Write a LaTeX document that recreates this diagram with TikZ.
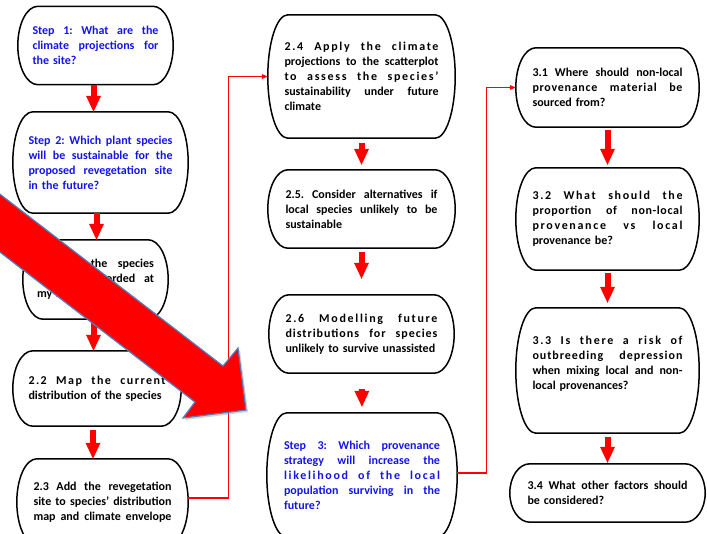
\documentclass[tikz,border=0pt]{standalone}
\usepackage{fontspec}
\setmainfont{Carlito}
\usetikzlibrary{arrows.meta,shadows,calc}
\definecolor{stepblue}{RGB}{20,20,235}
\definecolor{arrowedge}{RGB}{79,129,189}
\newcommand\spaced[2][14]{{\addfontfeature{LetterSpace=#1}#2}}
\tikzset{
  stepbox/.style={inner sep=0pt, align=left, font=\bfseries\fontsize{12}{15}\selectfont},
  boxline/.style={draw=black, line width=1.5pt},
  blockarrow/.style={draw=red, line width=6pt, -{Triangle[width=15pt,length=16pt,line width=0pt]}},
  connector/.style={draw=red, line width=1.2pt, -{Triangle[width=5pt,length=6pt,line width=0pt]}}
}
\begin{document}
\begin{tikzpicture}[x=1pt,y=-1pt]
    \useasboundingbox (0,0) rectangle (707,533);
    \clip (0,0) rectangle (707,533);
    \fill[white] (0,0) rectangle (707,533);
    % first column
    \node[stepbox, stepblue, minimum width=155, minimum height=78, text width=126pt] (s1) at (95.5,45.5)
        {Step\hfill 1:\hfill What\hfill are\hfill the\\ climate\hfill projections\hfill for\\ the site?};
    \node[stepbox, stepblue, minimum width=175, minimum height=101, text width=144pt] (s2) at (100.5,162.5)
        {Step\hfill 2:\hfill Which\hfill plant\hfill species\\ will\hfill be\hfill sustainable\hfill for\hfill the\\ proposed\hfill revegetation\hfill site\\ in the future?};
    \node[stepbox, minimum width=145, minimum height=79, text width=117pt] (s21) at (95.5,279.5)
        {2.1\hfill Are\hfill the\hfill species\\ currently\hfill recorded\hfill at\\ my site?};
    \node[stepbox, minimum width=168, minimum height=75, text width=137pt] (s22) at (97,388.5)
        {\spaced[12]{2.2\hfill Map\hfill the\hfill current}\\ distribution of the species};
    \node[stepbox, minimum width=171, minimum height=86, text width=138pt] (s23) at (102.5,502)
        {2.3\hfill Add\hfill the\hfill revegetation\\ site\hfill to\hfill species’\hfill distribution\\ map\hfill and\hfill climate\hfill envelope};
    % second column
    \node[stepbox, minimum width=187, minimum height=123, text width=154pt] (s24) at (361.5,76.5)
        {\spaced{2.4\hfill Apply\hfill the\hfill climate}\\ projections\hfill to\hfill the\hfill scatterplot\\ \spaced{to\hfill assess\hfill the\hfill species’}\\ sustainability\hfill under\hfill future\\ climate};
    \node[stepbox, minimum width=187, minimum height=78, text width=152pt] (s25) at (361.5,209)
        {2.5.\hfill Consider\hfill alternatives\hfill if\\ local\hfill species\hfill unlikely\hfill to\hfill be\\ sustainable};
    \node[stepbox, minimum width=185, minimum height=78, text width=152pt] (s26) at (361.5,334)
        {\spaced{2.6\hfill Modelling\hfill future}\\ \spaced[8]{distributions\hfill for\hfill species}\\ unlikely to survive unassisted};
    \node[stepbox, stepblue, minimum width=190, minimum height=124, text width=156pt] (s3) at (362,475)
        {Step\hfill 3:\hfill Which\hfill provenance\\ strategy\hfill will\hfill increase\hfill the\\ \spaced{likelihood\hfill of\hfill the\hfill local}\\ population\hfill surviving\hfill in\hfill the\\ future?};
    % third column
    \node[stepbox, minimum width=183, minimum height=79, text width=150pt] (s31) at (607.5,87.5)
        {3.1\hfill Where\hfill should\hfill non-local\\ \spaced[6]{provenance\hfill material\hfill be}\\ sourced from?};
    \node[stepbox, minimum width=183, minimum height=102, text width=150pt] (s32) at (607.5,219)
        {\spaced{3.2\hfill What\hfill should\hfill the}\\ \spaced[5]{proportion\hfill of\hfill non-local}\\ \spaced{provenance\hfill vs\hfill local}\\ provenance be?};
    \node[stepbox, minimum width=183, minimum height=125, text width=150pt] (s33) at (607.5,370.5)
        {\spaced{3.3\hfill Is\hfill there\hfill a\hfill risk\hfill of}\\ \spaced[8]{outbreeding\hfill depression}\\ when\hfill mixing\hfill local\hfill and\hfill non-\\ local provenances?\\ \mbox{}};
    \node[stepbox, minimum width=195, minimum height=58, text width=160pt] (s34) at (607.5,493)
        {3.4\hfill What\hfill other\hfill factors\hfill should\\ be considered?};
    % rounded outlines
    \foreach \b in {s1,s2,s21,s22,s23,s24,s25,s26,s3,s31,s32,s33,s34}
        \draw[boxline] let \p1=(\b.north east), \p2=(\b.south west), \n1={(\y1-\y2)/2} in
            (\x2+20pt,\y1) -- (\x1-20pt,\y1)
            arc[start angle=90, end angle=-90, x radius=20pt, y radius=\n1]
            -- (\x2+20pt,\y2)
            arc[start angle=270, end angle=90, x radius=20pt, y radius=\n1] -- cycle;
    % block arrows
    \draw[blockarrow] ([xshift=-2pt]s1.south) -- ([xshift=-2pt]s1.south |- s2.north);
    \draw[blockarrow] ([xshift=-4pt]s2.south) -- ([xshift=-4pt]s2.south |- s21.north);
    \draw[blockarrow, shorten <=2pt] ([xshift=-2pt]s21.south) -- ([xshift=-2pt]s21.south |- s22.north);
    \draw[blockarrow, shorten <=4pt] ([xshift=-4pt]s22.south) -- ([xshift=-4pt]s22.south |- s23.north);
    \draw[blockarrow, shorten <=5pt, shorten >=5pt] (s24) -- (s25);
    \draw[blockarrow, shorten <=4pt, shorten >=16pt] (s25) -- (s26);
    \draw[blockarrow, shorten <=16pt, shorten >=6pt] (s26) -- (s3.north);
    \draw[blockarrow, shorten <=3pt, shorten >=3pt] (s31) -- (s32);
    \draw[blockarrow, shorten <=3pt, shorten >=5pt] (s32) -- (s33);
    \draw[blockarrow, shorten <=4pt, shorten >=1pt] (s33) -- (s34);
    % connectors between columns
    \draw[connector] ([yshift=4pt]s23.east) -- ++(40,0) |- (s24.west);
    \draw[connector] ([yshift=2pt]s3.east) -- ++(29,0) |- (s31.west);
    % big pointer
    \filldraw[fill=red, draw=arrowedge, line width=1.2pt, line join=miter,
        drop shadow={shadow xshift=2pt, shadow yshift=-2pt, opacity=0.35}]
        (-60,148) -- (223,366) -- (238,348) -- (246,410) -- (183,418) -- (195,402) -- (-60,206) -- cycle;
\end{tikzpicture}
\end{document}
